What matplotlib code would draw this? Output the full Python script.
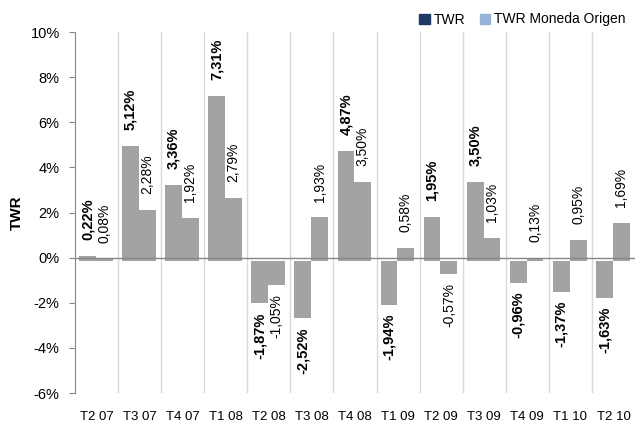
import numpy as np
import matplotlib.pyplot as plt
from matplotlib.patches import Patch

plt.rcParams['font.family'] = ['Liberation Sans', 'DejaVu Sans']

periods = ["T2 07", "T3 07", "T4 07", "T1 08", "T2 08", "T3 08", "T4 08",
           "T1 09", "T2 09", "T3 09", "T4 09", "T1 10", "T2 10"]
twr = [0.22, 5.12, 3.36, 7.31, -1.87, -2.52, 4.87,
       -1.94, 1.95, 3.50, -0.96, -1.37, -1.63]
twr_origen = [0.08, 2.28, 1.92, 2.79, -1.05, 1.93, 3.50,
              0.58, -0.57, 1.03, 0.13, 0.95, 1.69]

bar_gray = "#a3a3a3"
shadow = -0.15  # the bars in the original are only drop shadows, a bit lower


def fmt(v):
    return f"{v:.2f}%".replace(".", ",")


fig = plt.figure(figsize=(6.35, 4.24), dpi=100)
ax = fig.add_axes([0.118, 0.073, 0.882, 0.8515])

x = np.arange(len(periods))
w = 0.39
x1 = x - 0.21
x2 = x + 0.18
ax.bar(x1, twr, w, bottom=shadow, color=bar_gray, linewidth=0)
ax.bar(x2, twr_origen, w, bottom=shadow, color=bar_gray, linewidth=0)

for xs, vals, weight, size in [(x1, twr, "bold", 10.5), (x2, twr_origen, "normal", 10)]:
    for xi, v in zip(xs, vals):
        if v >= 0:
            ax.annotate(fmt(v), (xi, v), xytext=(0, 9), textcoords="offset points",
                        rotation=90, ha="center", va="bottom",
                        fontsize=size, fontweight=weight)
        else:
            ax.annotate(fmt(v), (xi, v), xytext=(0, -9), textcoords="offset points",
                        rotation=90, ha="center", va="top",
                        fontsize=size, fontweight=weight)

ax.set_xlim(-0.5, len(periods) - 0.5)
ax.set_ylim(-6, 10)
ax.set_yticks(range(-6, 11, 2))
ax.set_yticklabels([f"{t}%" for t in range(-6, 11, 2)], fontsize=10.5)
ax.set_xticks(x)
ax.set_xticklabels(periods, fontsize=9.5)
ax.tick_params(axis="x", length=0, pad=13)
ax.tick_params(axis="y", length=4, color="#868686", pad=7)

for b in np.arange(0.5, len(periods) - 0.5, 1):
    ax.axvline(b, color="#d9d9d9", linewidth=1, zorder=0)
ax.axhline(0, color="#868686", linewidth=1)

for s in ["top", "right", "bottom"]:
    ax.spines[s].set_visible(False)
ax.spines["left"].set_color("#868686")

ax.set_ylabel("TWR", fontsize=11, fontweight="bold", labelpad=5)

handles = [Patch(color="#1f3864", label="TWR"),
           Patch(color="#95b3d7", label="TWR Moneda Origen")]
fig.legend(handles=handles, loc="upper right", bbox_to_anchor=(1.005, 1.0),
           ncol=2, frameon=False, fontsize=10, handlelength=0.75,
           handleheight=0.75, handletextpad=0.3, columnspacing=1.0)

fig.savefig("out.png", dpi=100)
